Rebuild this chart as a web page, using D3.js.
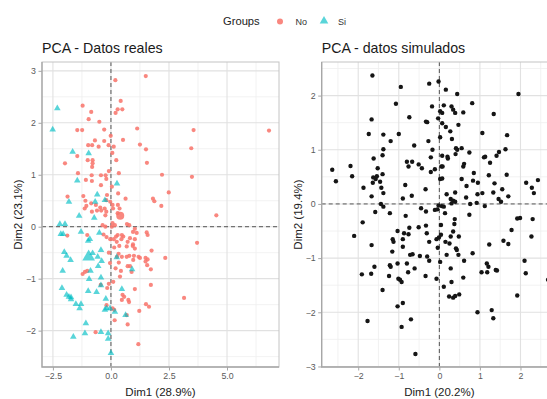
<!DOCTYPE html>
<html><head><meta charset="utf-8">
<script src="https://cdn.jsdelivr.net/npm/d3@7"></script>
<style>body{margin:0;background:#fff}svg{display:block;font-family:"Liberation Sans",Arial,sans-serif}</style>
</head><body><svg id="c" width="547" height="399"></svg>
<script>
// ---------- DATA ----------
const legendTitle = "Groups";
const groupNames = ["No", "Si"];
const titleReal = "PCA - Datos reales";
const titleSim = "PCA - datos simulados";
const realXLabel = "Dim1 (28.9%)", realYLabel = "Dim2 (23.1%)";
const simXLabel = "Dim1 (20.2%)", simYLabel = "Dim2 (19.4%)";
const realXTicks = [-2.5, 0, 2.5, 5];
const realYTicks = [-2, -1, 0, 1, 2, 3];
const simXTicks = [-2, -1, 0, 1, 2];
const simYTicks = [-3, -2, -1, 0, 1, 2];

// group "No" individuals [Dim1, Dim2]
const noPoints = [[1.50,2.90],[0.19,2.82],[0.42,2.42],[-1.22,2.33],[0.29,2.26],[0.49,2.26],[-0.85,2.21],[0.20,2.19],[-0.96,2.07],[-0.50,2.02],[-1.45,1.86],[-1.24,1.86],[-0.29,1.87],[1.13,1.89],[3.56,1.86],[6.81,1.85],[-0.01,1.75],[0.52,1.67],[-0.69,1.66],[-0.29,1.65],[1.25,1.58],[-0.98,1.57],[-0.81,1.57],[-0.10,1.57],[0.12,1.54],[-0.53,1.54],[3.46,1.51],[1.51,1.49],[0.06,1.42],[-1.45,1.36],[-0.79,1.28],[-0.79,1.22],[-1.00,1.28],[0.23,1.28],[-1.98,1.22],[1.55,1.23],[-0.81,1.15],[-0.09,1.07],[0.34,1.03],[-1.42,1.03],[-0.83,0.99],[-0.43,0.99],[-0.23,0.99],[2.20,1.00],[3.49,0.96],[-1.08,0.90],[-0.82,0.88],[0.04,0.77],[-0.43,0.80],[0.31,0.64],[2.49,0.66],[-1.19,0.59],[-0.17,0.61],[-1.87,0.58],[0.63,0.54],[1.81,0.54],[1.87,0.49],[2.17,0.40],[4.54,0.22],
[-1.10,0.50],[-1.06,0.40],[-0.85,0.45],[-1.13,0.35],[-0.65,0.42],[-0.46,0.37],[-0.03,0.48],[0.07,0.42],[0.09,0.35],[0.30,0.42],[0.37,0.35],[-0.60,0.31],[-0.42,0.31],[-0.27,0.35],[-0.20,0.29],[-0.82,0.29],[-0.24,0.22],[0.29,0.26],[-0.20,0.51],[-0.20,0.92],
[-0.36,0.03],[-0.24,0.00],[0.69,0.05],[0.79,0.03],[0.17,0.03],[1.03,-0.04],[0.95,-0.10],[1.11,-0.12],[1.54,-0.11],[1.58,-0.16],[-1.02,-0.16],[-1.88,-0.17],[-0.32,-0.15],[-0.19,-0.20],[0.29,-0.16],[0.53,-0.19],[0.82,-0.22],[1.03,-0.24],[0.25,-0.29],[0.72,-0.29],[3.71,-0.31],[0.14,-0.40],[0.36,-0.37],[0.68,-0.38],[0.94,-0.37],[1.03,-0.42],[1.75,-0.46],[-0.09,-0.50],[0.33,-0.52],[0.68,-0.58],[0.79,-0.56],[0.99,-0.56],[1.25,-0.60],[1.49,-0.60],[1.58,-0.63],[2.34,-0.60],[1.49,-0.67],[1.56,-0.74],[0.96,-0.64],[-0.04,-0.70],[0.34,-0.69],[0.72,-0.76],[0.82,-0.76],[0.20,-0.80],[-1.02,-0.85],[1.72,-0.82],[-1.22,-0.91],[-1.12,-0.87],[0.43,-0.85],[0.89,-0.87],[0.39,-0.96],[0.10,-1.06],[-0.09,-1.10],[-0.44,-1.12],[-0.16,-1.18],[1.72,-1.12],[1.03,-1.20],[0.50,-1.31],[0.57,-1.35],[0.47,-1.41],[0.75,-1.41],[0.78,-1.45],[3.15,-1.37],[1.51,-1.49],[1.64,-1.54],[1.22,-1.62],[-0.19,-1.51],[0.07,-1.57],[0.14,-1.60],[0.68,-1.70],[0.72,-1.88],[-0.66,-2.03],[1.18,-2.26],[0.16,-1.80],
[0.04,0.00],[0.07,0.07],[0.22,-0.19],[0.47,-0.16],[0.45,-0.24],[-0.03,-0.24],[0.12,-0.24],[0.95,-0.34],[0.26,-0.58],[0.47,-0.58],[1.19,-0.58]];

// group "Si" individuals [Dim1, Dim2]
const siPoints = [[-2.31,2.28],[-2.51,1.87],[-1.65,1.44],[-0.96,1.41],[-1.45,0.89],[0.26,0.83],[-0.59,0.62],[-0.26,0.51],[-0.68,0.48],[-1.81,0.48],[-1.37,0.21],[-0.72,0.17],[-2.20,0.05],[-1.98,0.05],[-2.16,-0.14],[-2.06,-0.14],[-1.29,-0.10],[-0.50,-0.12],[-0.98,-0.27],[-0.91,-0.24],[-2.01,-0.49],[-1.91,-0.56],[-1.74,-0.64],[-0.79,-0.51],[-0.43,-0.45],[-0.57,-0.58],[-0.40,-0.66],[0.25,-0.59],[-2.08,-0.85],[-0.55,-0.76],[-0.88,-0.85],[-0.94,-1.01],[-0.43,-0.98],[0.91,-0.82],[-2.11,-1.18],[-0.43,-1.13],[-0.98,-1.24],[-0.62,-1.26],[0.47,-1.20],[-1.91,-1.31],[-1.81,-1.35],[-1.72,-1.36],[-1.72,-1.40],[-1.51,-1.49],[-1.29,-1.49],[-1.35,-1.57],[-0.22,-1.39],[-0.19,-1.57],[-0.26,-1.60],[-0.04,-1.57],[0.17,-1.64],[0.63,-1.70],[-1.08,-1.86],[-1.12,-2.05],[-0.43,-2.03],[-0.12,-2.05],[-0.12,-2.16],[-1.62,-2.12],[0.00,-2.43]];

// group mean points
const noMean = [0.40, 0.21];
const siMean = [-0.96, -0.58];

// simulated individuals [Dim1, Dim2]
const simPoints = [[-1.65,2.37],[-0.95,2.16],[-0.25,2.22],[-0.02,2.26],[0.16,2.11],[0.44,2.03],[1.95,2.03],[-1.07,1.85],[0.81,1.86],[-0.18,1.80],[0.11,1.82],[0.30,1.80],[0.34,1.74],[0.39,1.68],[0.02,1.71],[0.07,1.68],[0.59,1.69],[1.34,1.66],[-1.67,1.56],[-0.74,1.60],[-0.33,1.52],[-0.30,1.51],[-0.03,1.58],[0.07,1.49],[0.16,1.42],[0.47,1.46],[0.27,1.34],[-1.74,1.29],[-1.38,1.28],[-1.00,1.29],[1.06,1.31],[1.67,1.27],[0.02,1.23],[-1.20,1.16],[-0.27,1.16],[0.31,1.20],[-0.62,1.08],[-1.38,1.01],[-1.40,0.90],[-0.17,1.00],[0.41,1.03],[0.44,1.00],[0.55,1.03],[0.74,0.95],[1.63,1.01],[1.41,0.89],[1.47,0.96],[-1.62,0.84],[-0.80,0.78],[-0.76,0.69],[-0.67,0.78],[-0.51,0.73],[-0.43,0.66],[-0.21,0.86],[0.07,0.89],[0.20,0.87],[0.21,0.84],[0.40,0.92],[0.61,0.74],[0.59,0.69],[1.10,0.86],[1.13,0.87],[1.25,0.76],[-2.64,0.63],[-2.19,0.70],[-2.15,0.51],[-2.55,0.42],[-1.52,0.66],[-1.40,0.55],[-1.63,0.49],[-1.57,0.46],[-1.46,0.41],[-1.54,0.51],[-1.64,0.39],[-1.43,0.30],[-1.38,0.20],[-1.87,0.30],[-1.67,0.14],[-0.84,0.35],[-0.11,0.64],[-0.21,0.59],[0.05,0.69],[0.08,0.69],[0.02,0.46],[0.07,0.47],[-0.34,0.27],[-0.68,0.15],[-0.90,0.10],[0.18,0.18],[0.39,0.21],[0.55,0.46],[0.67,0.33],[0.85,0.57],[0.83,0.43],[0.95,0.39],[1.22,0.53],[1.36,0.38],[1.55,0.27],[1.66,0.54],[1.70,0.14],[0.94,0.18],[1.06,0.20],[1.33,0.21],[2.14,0.39],[2.28,0.30],[2.43,0.44],[2.33,0.20],[0.28,0.09],[0.34,0.06],[0.30,0.01],[0.39,0.04],[0.66,0.12],[1.46,0.09],[1.52,0.04],
[-1.44,0.00],[-1.38,-0.05],[-1.58,-0.15],[-1.22,-0.17],[-1.89,-0.34],[-0.83,-0.22],[-0.45,-0.08],[-0.33,-0.14],[-0.11,-0.11],[-0.05,-0.10],[-0.02,-0.03],[0.06,-0.04],[0.11,-0.05],[0.14,-0.17],[0.76,0.00],[0.92,0.02],[1.12,-0.04],[0.74,-0.20],[0.38,-0.28],[0.37,-0.37],[1.92,-0.27],[1.99,-0.26],[2.30,-0.28],[1.78,-0.48],[-2.10,-0.59],[-1.03,-0.50],[-0.87,-0.54],[-0.76,-0.56],[-0.74,-0.44],[-0.51,-0.43],[-0.33,-0.40],[-0.31,-0.54],[0.04,-0.39],[0.34,-0.51],[-0.07,-0.65],[-0.01,-0.62],[0.04,-0.57],[-0.25,-0.70],[0.15,-0.70],[0.25,-0.73],[0.28,-0.60],[0.48,-0.60],[-1.15,-0.65],[-1.13,-0.70],[-0.90,-0.65],[-0.90,-0.79],[-1.67,-0.76],[-0.04,-0.81],[0.41,-0.82],[0.43,-0.85],[1.58,-0.68],[1.70,-0.74],[1.23,-0.75],[2.27,-0.60],[-1.16,-0.88],[-0.48,-0.96],[-0.72,-0.94],[-0.66,-0.93],[-0.30,-0.97],[-0.25,-1.05],[0.18,-0.94],[0.47,-0.94],[0.82,-0.91],[0.61,-1.05],[0.02,-1.07],[-1.03,-1.10],[-1.22,-1.13],[-1.20,-1.16],[-0.80,-1.10],[-0.61,-1.19],[0.28,-1.19],[-1.60,-1.16],[1.17,-1.10],[1.21,-1.16],[1.39,-1.22],[1.42,-1.23],[2.10,-1.05],[-1.91,-1.30],[-1.68,-1.29],[-1.24,-1.33],[-0.77,-1.26],[-0.34,-1.33],[1.04,-1.26],[1.18,-1.26],[2.13,-1.28],[-1.01,-1.38],[-0.97,-1.40],[-0.93,-1.44],[-0.07,-1.38],[0.30,-1.44],[0.59,-1.36],[0.11,-1.53],[-1.40,-1.59],[0.24,-1.71],[0.34,-1.73],[0.39,-1.70],[0.49,-1.67],[1.92,-1.69],[-1.03,-1.89],[-0.90,-1.83],[0.94,-2.00],[1.29,-1.96],[1.33,-2.11],[-1.77,-2.16],[-0.70,-2.13],[-0.93,-2.27],[-0.59,-2.77],[2.68,-1.40]];

// ---------- DRAW ----------
const RED = "#F8766D", TEAL = "#00BFC4";
const svg = d3.select("#c");
const defs = svg.append("defs");

function panel(opt) {
  const x = d3.scaleLinear().domain(opt.xDom).range([opt.x0, opt.x1]);
  const y = d3.scaleLinear().domain(opt.yDom).range([opt.y1, opt.y0]);
  const g = svg.append("g");
  const cid = "clip" + opt.id;
  defs.append("clipPath").attr("id", cid).append("rect")
    .attr("x", opt.x0).attr("y", opt.y0).attr("width", opt.x1 - opt.x0).attr("height", opt.y1 - opt.y0);

  // minor grid
  const mid = t => t.slice(0, -1).map((v, i) => (v + t[i + 1]) / 2);
  const step = t => t[1] - t[0];
  const xMinor = mid([opt.xTicks[0] - step(opt.xTicks), ...opt.xTicks, opt.xTicks[opt.xTicks.length - 1] + step(opt.xTicks)]);
  const yMinor = mid([opt.yTicks[0] - step(opt.yTicks), ...opt.yTicks, opt.yTicks[opt.yTicks.length - 1] + step(opt.yTicks)]);
  const grid = g.append("g").attr("clip-path", `url(#${cid})`);
  grid.selectAll(".xm").data(xMinor).join("line")
    .attr("x1", d => x(d)).attr("x2", d => x(d)).attr("y1", opt.y0).attr("y2", opt.y1)
    .attr("stroke", "#efefef").attr("stroke-width", 0.8);
  grid.selectAll(".ym").data(yMinor).join("line")
    .attr("y1", d => y(d)).attr("y2", d => y(d)).attr("x1", opt.x0).attr("x2", opt.x1)
    .attr("stroke", "#efefef").attr("stroke-width", 0.8);
  grid.selectAll(".xM").data(opt.xTicks).join("line")
    .attr("x1", d => x(d)).attr("x2", d => x(d)).attr("y1", opt.y0).attr("y2", opt.y1)
    .attr("stroke", "#e1e1e1").attr("stroke-width", 1.1);
  grid.selectAll(".yM").data(opt.yTicks).join("line")
    .attr("y1", d => y(d)).attr("y2", d => y(d)).attr("x1", opt.x0).attr("x2", opt.x1)
    .attr("stroke", "#e1e1e1").attr("stroke-width", 1.1);

  // reference dashed lines
  grid.append("line").attr("x1", x(0)).attr("x2", x(0)).attr("y1", opt.y0).attr("y2", opt.y1)
    .attr("stroke", "#444").attr("stroke-width", 0.9).attr("stroke-dasharray", "4,3");
  grid.append("line").attr("y1", y(0)).attr("y2", y(0)).attr("x1", opt.x0).attr("x2", opt.x1)
    .attr("stroke", "#444").attr("stroke-width", 0.9).attr("stroke-dasharray", "4,3");

  const marks = g.append("g").attr("clip-path", `url(#${cid})`);
  opt.draw(marks, x, y);

  // border
  g.append("rect").attr("x", opt.x0).attr("y", opt.y0).attr("width", opt.x1 - opt.x0).attr("height", opt.y1 - opt.y0)
    .attr("fill", "none").attr("stroke", "#c4c4c4").attr("stroke-width", 1);
  g.append("path").attr("d", `M${opt.x0},${opt.y0}V${opt.y1}H${opt.x1}`)
    .attr("fill", "none").attr("stroke", "#a6a6a6").attr("stroke-width", 1.3);

  // axes
  const xAxis = g.append("g").attr("transform", `translate(0,${opt.y1})`)
    .call(d3.axisBottom(x).tickValues(opt.xTicks).tickFormat(opt.xFmt).tickSize(3.5).tickPadding(2.5));
  const yAxis = g.append("g").attr("transform", `translate(${opt.x0},0)`)
    .call(d3.axisLeft(y).tickValues(opt.yTicks).tickFormat(d3.format("d")).tickSize(3.5).tickPadding(2.5));
  [xAxis, yAxis].forEach(a => {
    a.select(".domain").remove();
    a.selectAll(".tick line").attr("stroke", "#a6a6a6");
    a.selectAll(".tick text").attr("fill", "#5a5a5a").attr("font-size", 8.8)
      .attr("font-family", '"Liberation Sans",Arial,sans-serif');
  });

  // titles
  svg.append("text").attr("x", opt.x0).attr("y", 53).text(opt.title)
    .attr("font-size", 14.2).attr("fill", "#1a1a1a");
  svg.append("text").attr("x", (opt.x0 + opt.x1) / 2).attr("y", 396).attr("text-anchor", "middle")
    .text(opt.xLabel).attr("font-size", 11.5).attr("fill", "#222");
  svg.append("text").attr("transform", `translate(${opt.yLabX},${(opt.y0 + opt.y1) / 2}) rotate(-90)`)
    .attr("text-anchor", "middle").text(opt.yLabel).attr("font-size", 11.5).attr("fill", "#222");
}

const tri = d3.symbol().type(d3.symbolTriangle);

panel({
  id: "a", x0: 42, x1: 279, y0: 62, y1: 367,
  xDom: [-2.97, 7.24], yDom: [-2.70, 3.17],
  xTicks: realXTicks, yTicks: realYTicks, xFmt: d3.format(".1f"),
  title: titleReal, xLabel: realXLabel, yLabel: realYLabel, yLabX: 22,
  draw: (g, x, y) => {
    g.selectAll(".no").data(noPoints).join("circle")
      .attr("cx", d => x(d[0])).attr("cy", d => y(d[1])).attr("r", 2.1)
      .attr("fill", RED).attr("fill-opacity", 0.88);
    g.selectAll(".si").data(siPoints).join("path")
      .attr("d", tri.size(19)).attr("transform", d => `translate(${x(d[0])},${y(d[1])})`)
      .attr("fill", TEAL).attr("fill-opacity", 0.65);
    g.append("circle").attr("cx", x(noMean[0])).attr("cy", y(noMean[1])).attr("r", 4)
      .attr("fill", RED).attr("fill-opacity", 0.88);
    g.append("path").attr("d", tri.size(70)).attr("transform", `translate(${x(siMean[0])},${y(siMean[1])})`)
      .attr("fill", TEAL).attr("fill-opacity", 0.65);
  }
});

panel({
  id: "b", x0: 321.7, x1: 557, y0: 62, y1: 367,
  xDom: [-2.9, 2.9], yDom: [-3.01, 2.62],
  xTicks: simXTicks, yTicks: simYTicks, xFmt: d3.format("d"),
  title: titleSim, xLabel: simXLabel, yLabel: simYLabel, yLabX: 302,
  draw: (g, x, y) => {
    g.selectAll(".sim").data(simPoints).join("circle")
      .attr("cx", d => x(d[0])).attr("cy", d => y(d[1])).attr("r", 2.2)
      .attr("fill", "#151515");
  }
});

// legend
const lg = svg.append("g");
lg.append("text").attr("x", 223).attr("y", 25).text(legendTitle).attr("font-size", 11.2).attr("fill", "#222");
lg.append("circle").attr("cx", 280).attr("cy", 21.5).attr("r", 3).attr("fill", RED).attr("fill-opacity", 0.88);
lg.append("text").attr("x", 295.5).attr("y", 25).text(groupNames[0]).attr("font-size", 9).attr("fill", "#333");
lg.append("path").attr("d", tri.size(32)).attr("transform", "translate(324,21)").attr("fill", TEAL).attr("fill-opacity", 0.65);
lg.append("text").attr("x", 338).attr("y", 25).text(groupNames[1]).attr("font-size", 9).attr("fill", "#333");
</script></body></html>
